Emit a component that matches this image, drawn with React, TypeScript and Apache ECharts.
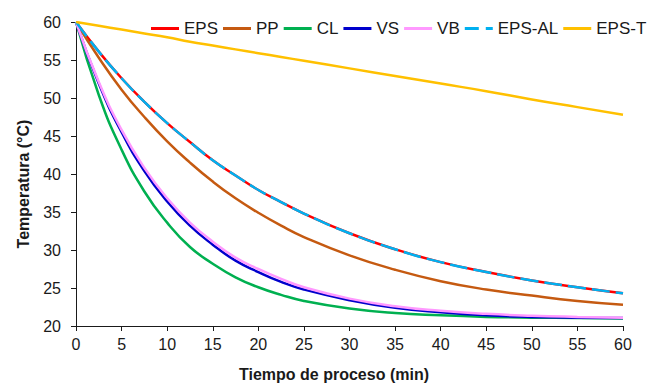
import React, { useEffect, useRef } from "react";
import * as echarts from "echarts";

const times = [0, 2.5, 5, 7.5, 10, 12.5, 15, 17.5, 20, 22.5, 25, 30, 35, 40, 45, 50, 55, 60];
const epsValues = [60, 56.1, 52.6, 49.5, 46.7, 44.2, 41.8, 39.8, 37.9, 36.3, 34.8, 32.2, 30.1, 28.4, 27.1, 26.0, 25.1, 24.3];
const ppValues = [60, 55.3, 51.1, 47.5, 44.3, 41.5, 39.0, 36.8, 34.9, 33.2, 31.7, 29.3, 27.4, 25.9, 24.8, 24.0, 23.3, 22.8];
const clValues = [60, 50.4, 43.2, 37.7, 33.6, 30.4, 28.2, 26.4, 25.1, 24.1, 23.3, 22.3, 21.7, 21.4, 21.2, 21.1, 21.05, 21.0];
const vsValues = [60, 51.9, 45.5, 40.4, 36.4, 33.2, 30.7, 28.6, 27.1, 25.8, 24.8, 23.4, 22.4, 21.8, 21.4, 21.2, 21.1, 21.05];
const vbValues = [60, 52.1, 45.8, 40.8, 36.8, 33.6, 31.1, 29.0, 27.5, 26.2, 25.1, 23.6, 22.6, 22.0, 21.6, 21.35, 21.2, 21.1];
const epsAlValues = [60, 56.1, 52.6, 49.5, 46.7, 44.2, 41.8, 39.8, 37.9, 36.3, 34.8, 32.2, 30.1, 28.4, 27.1, 26.0, 25.1, 24.3];
const epsTValues = [60, 59.5, 59.0, 58.5, 58.0, 57.4, 56.9, 56.4, 55.9, 55.4, 54.9, 53.9, 52.9, 51.9, 50.9, 49.8, 48.8, 47.8];

const seriesNames = ["EPS", "PP", "CL", "VS", "VB", "EPS-AL", "EPS-T"];
const seriesColors = ["#FF0000", "#C55A11", "#00B050", "#0000CC", "#FF99FF", "#00B0F0", "#FFC000"];

const xTitle = "Tiempo de proceso (min)";
const yTitle = "Temperatura (°C)";

const FONT = "'Liberation Sans', Arial, sans-serif";
const SOLID_ICON = "path://M0,0h28v3h-28z";
const DASH_ICON = "path://M0,0h14v3h-14zM21,0h7v3h-7z";

export default function App() {
  const ref = useRef<HTMLDivElement>(null);
  useEffect(() => {
    document.body.style.margin = "0";
    if (!ref.current) return;
    const chart = echarts.init(ref.current, null, { renderer: "svg" });
    const valueSets = [epsValues, ppValues, clValues, vsValues, vbValues, epsAlValues, epsTValues];
    const series = seriesNames.map((name, i) => ({
      name,
      type: "line",
      smooth: 0.5,
      symbol: "none",
      showSymbol: false,
      data: times.map((t, j) => [t, valueSets[i][j]]),
      lineStyle: {
        color: seriesColors[i],
        width: 2.5,
        type: name === "EPS-AL" ? [18, 6] : "solid",
      },
      itemStyle: { color: seriesColors[i] },
    }));
    chart.setOption({
      animation: false,
      textStyle: { fontFamily: FONT },
      grid: { left: 76, right: 29, top: 22, bottom: 57, containLabel: false },
      legend: {
        left: 146,
        top: 15,
        width: 520,
        itemWidth: 28,
        itemHeight: 3,
        itemGap: 5,
        symbolKeepAspect: false,
        textStyle: { fontSize: 17, color: "#1a1a1a", fontFamily: FONT },
        data: seriesNames.map((n) => ({
          name: n,
          icon: n === "EPS-AL" ? DASH_ICON : SOLID_ICON,
          itemStyle: { color: seriesColors[seriesNames.indexOf(n)] },
        })),
      },
      xAxis: {
        type: "value",
        min: 0,
        max: 60,
        interval: 5,
        splitLine: { show: false },
        axisLine: { show: true, lineStyle: { color: "#1a1a1a", width: 1 } },
        axisTick: { show: true, length: 5, lineStyle: { color: "#1a1a1a" } },
        axisLabel: { fontSize: 16, color: "#1a1a1a", margin: 10, fontFamily: FONT },
      },
      yAxis: {
        type: "value",
        min: 20,
        max: 60,
        interval: 5,
        splitLine: { show: false },
        axisLine: { show: true, lineStyle: { color: "#1a1a1a", width: 1 } },
        axisTick: { show: true, length: 5, lineStyle: { color: "#1a1a1a" } },
        axisLabel: { fontSize: 16, color: "#1a1a1a", margin: 15, fontFamily: FONT },
      },
      graphic: [
        {
          type: "text",
          x: 23,
          y: 184,
          rotation: Math.PI / 2,
          style: {
            text: yTitle,
            fontSize: 16,
            fontWeight: "bold",
            fontFamily: FONT,
            fill: "#1a1a1a",
            align: "center",
            verticalAlign: "middle",
          },
        },
        {
          type: "text",
          x: 334,
          y: 374,
          style: {
            text: xTitle,
            fontSize: 16,
            fontWeight: "bold",
            fontFamily: FONT,
            fill: "#1a1a1a",
            align: "center",
            verticalAlign: "middle",
          },
        },
      ],
      series,
    });
    return () => chart.dispose();
  }, []);
  return <div ref={ref} style={{ width: 652, height: 383 }} />;
}
